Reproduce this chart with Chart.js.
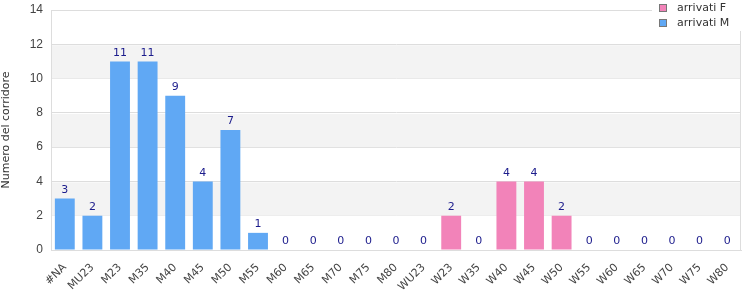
<!DOCTYPE html>
<html>
<head>
<meta charset="utf-8">
<script src="https://cdn.jsdelivr.net/npm/chart.js@4"></script>
<style>
  body { margin: 0; background: #fff; }
</style>
</head>
<body>
<canvas id="chart" width="750" height="300"></canvas>
<script>
const categories = ["#NA", "MU23", "M23", "M35", "M40", "M45", "M50", "M55", "M60", "M65", "M70", "M75", "M80",
  "WU23", "W23", "W35", "W40", "W45", "W50", "W55", "W60", "W65", "W70", "W75", "W80"];
const arrivatiF = [0, 0, 0, 0, 0, 0, 0, 0, 0, 0, 0, 0, 0, 0, 2, 0, 4, 4, 2, 0, 0, 0, 0, 0, 0];
const arrivatiM = [3, 2, 11, 11, 9, 4, 7, 1, 0, 0, 0, 0, 0, 0, 0, 0, 0, 0, 0, 0, 0, 0, 0, 0, 0];
const yTicks = [0, 2, 4, 6, 8, 10, 12, 14];

const pink = "#f283b9";
const blue = "#60a8f4";

// grey bands between every other gridline + frame round the plot
const bandsPlugin = {
  id: "bands",
  beforeDatasetsDraw(chart) {
    const ctx = chart.ctx;
    const area = chart.chartArea;
    const y = chart.scales.y;
    ctx.save();
    ctx.fillStyle = "#f3f3f3";
    for (let i = 0; i < yTicks.length - 1; i++) {
      if ((yTicks[i] / 2) % 2 === 1) {
        let top = y.getPixelForValue(yTicks[i + 1]);
        let bottom = y.getPixelForValue(yTicks[i]);
        ctx.fillRect(area.left, top + 1, area.right - area.left, bottom - top - 1);
      }
    }
    ctx.strokeStyle = "#dddddd";
    ctx.lineWidth = 1;
    ctx.strokeRect(area.left + 0.5, area.top + 0.5, area.right - area.left - 1, area.bottom - area.top);
    ctx.restore();
  },
};

// value labels on top of each stacked bar
const valueLabels = {
  id: "valueLabels",
  afterDatasetsDraw(chart) {
    const ctx = chart.ctx;
    const x = chart.scales.x;
    const y = chart.scales.y;
    ctx.save();
    ctx.fillStyle = "#1c1c8c";
    ctx.font = "11px 'DejaVu Sans'";
    ctx.textAlign = "center";
    ctx.textBaseline = "bottom";
    categories.forEach((c, i) => {
      let total = arrivatiF[i] + arrivatiM[i];
      ctx.fillText(String(total), x.getPixelForValue(i), y.getPixelForValue(total) - 3);
    });
    ctx.restore();
  },
};

// legend box in the top right corner, over the frame
const cornerLegend = {
  id: "cornerLegend",
  afterDraw(chart) {
    const ctx = chart.ctx;
    const items = [
      { label: "arrivati F", color: pink },
      { label: "arrivati M", color: blue },
    ];
    ctx.save();
    ctx.fillStyle = "#ffffff";
    ctx.fillRect(652, 0, 89, 31);
    ctx.font = "11px 'DejaVu Sans'";
    ctx.textBaseline = "middle";
    items.forEach((it, i) => {
      let top = 4 + i * 15;
      ctx.fillStyle = it.color;
      ctx.fillRect(659, top, 8, 8);
      ctx.strokeStyle = "#777777";
      ctx.lineWidth = 1;
      ctx.strokeRect(659.5, top + 0.5, 7, 7);
      ctx.fillStyle = "#333333";
      ctx.fillText(it.label, 677, top + 4);
    });
    ctx.restore();
  },
};

new Chart(document.getElementById("chart"), {
  type: "bar",
  data: {
    labels: categories,
    datasets: [
      { label: "arrivati F", data: arrivatiF, backgroundColor: pink, borderColor: pink, borderWidth: 0, inflateAmount: 0 },
      { label: "arrivati M", data: arrivatiM, backgroundColor: blue, borderColor: blue, borderWidth: 0, inflateAmount: 0 },
    ],
  },
  options: {
    responsive: false,
    animation: false,
    devicePixelRatio: 1,
    layout: { padding: { top: 10, right: 9, left: 0, bottom: 0 } },
    datasets: {
      bar: { categoryPercentage: 1, barPercentage: 0.72 },
    },
    plugins: {
      legend: { display: false },
      tooltip: { enabled: false },
    },
    scales: {
      x: {
        stacked: true,
        grid: { display: false },
        border: { display: true, color: "#dddddd" },
        ticks: {
          autoSkip: false,
          minRotation: 45,
          maxRotation: 45,
          padding: 3,
          color: "#444444",
          font: { family: "'DejaVu Sans'", size: 11 },
        },
        afterFit(scale) {
          scale.height = 50;
          scale.paddingLeft = 0;
          scale.paddingRight = 0;
        },
      },
      y: {
        stacked: true,
        min: 0,
        max: 14,
        afterBuildTicks(scale) {
          scale.ticks = yTicks.map((v) => ({ value: v }));
        },
        grid: { color: "#dddddd", drawTicks: false },
        border: { display: true, color: "#dddddd" },
        ticks: {
          padding: 8,
          color: "#444444",
          font: { family: "'Liberation Sans'", size: 12 },
        },
        title: {
          display: true,
          text: "Numero del corridore",
          color: "#333333",
          font: { family: "'DejaVu Sans'", size: 11 },
          padding: { top: 0, bottom: 4 },
        },
        afterFit(scale) {
          scale.width = 51;
          scale.paddingTop = 0;
          scale.paddingBottom = 0;
        },
      },
    },
  },
  plugins: [bandsPlugin, valueLabels, cornerLegend],
});
</script>
</body>
</html>
